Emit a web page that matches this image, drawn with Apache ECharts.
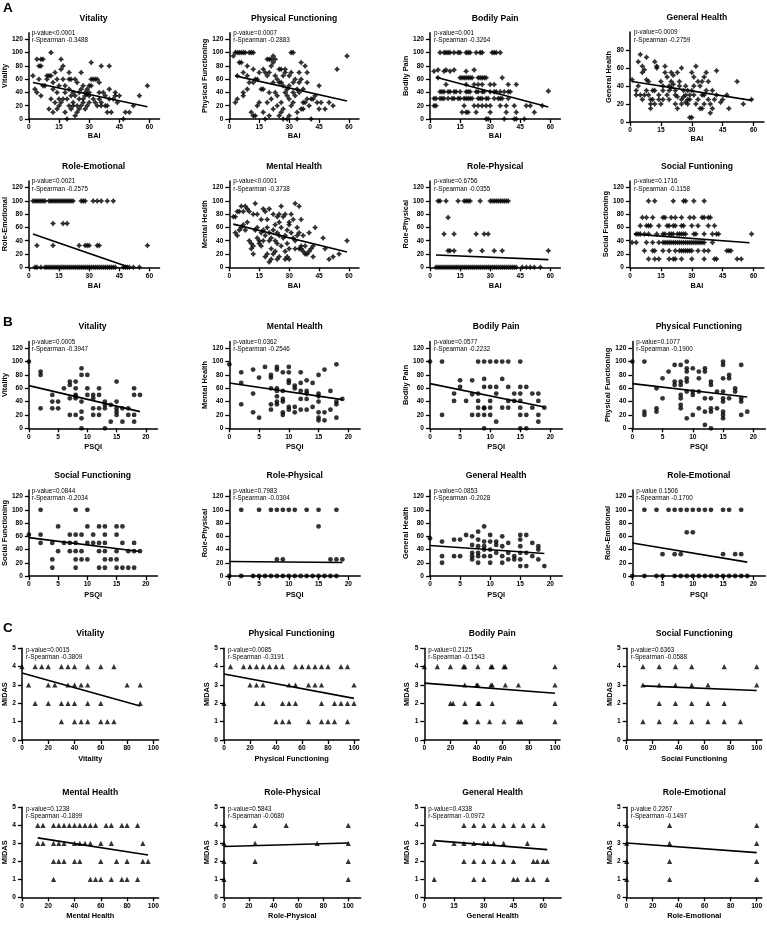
<!DOCTYPE html>
<html><head><meta charset="utf-8">
<script src="https://cdn.jsdelivr.net/npm/echarts@6/dist/echarts.min.js"></script>
<style>html,body{margin:0;padding:0;background:#fff}#c{width:767px;height:925px}</style>
</head><body><div id="c"></div>
<script>
// ===================== DATA =====================
// ---- Section A: BAI (x) vs SF-36 domains (y) ----
const baiVitality = [[2,65],[3,45],[4,40],[4,90],[5,80],[6,80],[6,90],[7,90],[5,60],[6,35],[7,50],[8,50],[9,60],[9,65],[10,65],[11,65],[11,100],[10,15],[11,30],[12,55],[12,45],[12,10],[13,70],[13,25],[14,60],[14,40],[14,15],[15,50],[15,30],[15,20],[16,90],[16,75],[16,25],[17,80],[17,60],[17,30],[18,50],[18,40],[18,10],[19,30],[19,0],[20,60],[20,45],[20,20],[20,70],[21,60],[21,15],[21,35],[22,40],[22,25],[22,20],[23,35],[23,5],[23,60],[24,55],[24,20],[24,10],[25,40],[25,30],[25,15],[26,45],[26,20],[26,70],[27,30],[27,50],[27,25],[28,40],[28,35],[28,15],[29,45],[29,38],[29,20],[30,40],[30,35],[30,25],[30,50],[31,50],[31,60],[31,85],[32,60],[32,30],[33,60],[33,25],[34,60],[34,20],[35,55],[35,40],[35,30],[36,80],[36,25],[36,20],[37,40],[38,35],[38,20],[39,20],[39,10],[40,30],[40,45],[40,80],[41,10],[42,30],[43,35],[43,40],[44,25],[45,35],[47,0],[48,10],[50,10],[52,20],[55,35],[59,50]];
const baiPhysFunc = [[3,100],[4,100],[5,100],[6,100],[7,100],[8,100],[10,100],[11,100],[12,100],[31,100],[32,100],[2,95],[22,95],[59,95],[19,90],[20,90],[21,90],[23,90],[5,85],[6,85],[22,85],[36,85],[9,80],[21,80],[38,80],[12,75],[17,75],[25,75],[26,75],[28,75],[54,75],[7,70],[15,70],[18,70],[20,70],[28,70],[31,70],[35,70],[39,70],[4,65],[9,65],[19,65],[23,65],[27,65],[30,65],[14,60],[24,60],[33,60],[36,60],[12,55],[22,55],[25,55],[32,55],[35,55],[39,55],[27,50],[30,50],[45,50],[9,45],[29,45],[37,45],[7,40],[23,40],[32,40],[35,40],[7,35],[29,35],[43,35],[4,30],[30,30],[39,30],[42,30],[3,25],[15,25],[19,25],[26,25],[32,25],[37,25],[14,20],[24,20],[52,20],[27,15],[45,15],[48,15],[11,10],[17,10],[34,10],[12,5],[13,5],[20,5],[25,5],[18,0],[27,0],[29,0],[34,0],[41,0],[16,45],[21,30],[24,35],[26,55],[28,40],[31,20],[33,35],[36,15],[38,25],[40,20],[44,25],[46,25],[50,25],[10,55],[13,60],[17,45],[20,40],[22,15],[26,10],[30,5],[34,45],[37,15],[41,30]];
const baiBodilyPain = [[5,100],[7,100],[8,100],[9,100],[10,100],[12,100],[14,100],[15,100],[18,100],[19,100],[20,100],[23,100],[25,100],[26,100],[31,100],[32,100],[33,100],[35,100],[2,72],[4,74],[7,72],[8,74],[10,72],[12,74],[18,72],[22,74],[4,62],[15,62],[16,62],[17,62],[18,62],[19,62],[20,62],[21,62],[24,62],[25,62],[26,62],[27,62],[28,62],[36,62],[8,52],[18,52],[22,52],[24,52],[26,52],[30,52],[32,52],[39,52],[43,52],[5,41],[6,41],[7,41],[9,41],[10,41],[12,41],[13,41],[15,41],[18,41],[19,41],[20,41],[23,41],[24,41],[26,41],[27,41],[30,41],[32,41],[33,41],[35,41],[37,41],[39,41],[40,41],[2,31],[3,31],[5,31],[6,31],[7,31],[9,31],[11,31],[12,31],[14,31],[15,31],[17,31],[18,31],[19,31],[20,31],[21,31],[24,31],[25,31],[26,31],[28,31],[29,31],[32,31],[34,31],[35,31],[36,31],[39,31],[2,20],[3,20],[17,20],[22,20],[24,20],[26,20],[28,20],[30,20],[35,20],[38,20],[42,20],[48,20],[50,20],[56,20],[16,10],[18,10],[19,10],[23,10],[30,10],[38,10],[43,10],[52,10],[28,0],[29,0],[37,0],[42,0],[43,0],[47,0],[59,42]];
const baiGenHealth = [[1,47],[3,35],[4,40],[4,67],[5,75],[6,62],[6,55],[7,58],[7,30],[8,72],[8,47],[9,30],[10,20],[10,15],[11,25],[12,35],[12,67],[13,60],[13,62],[14,30],[15,45],[15,20],[16,25],[16,40],[17,55],[17,62],[18,50],[19,35],[19,25],[20,55],[20,45],[21,42],[21,52],[22,35],[22,30],[23,55],[23,15],[24,40],[24,45],[25,60],[25,20],[25,25],[26,35],[27,30],[27,40],[28,25],[28,20],[29,5],[29,30],[29,25],[30,5],[30,55],[30,35],[31,50],[31,30],[32,62],[33,45],[33,25],[34,40],[34,15],[35,45],[35,30],[36,50],[36,20],[37,55],[37,35],[38,25],[39,10],[39,20],[40,15],[40,35],[41,25],[42,57],[42,30],[45,25],[47,30],[48,15],[52,45],[55,20],[59,25],[3,30],[5,30],[6,25],[8,35],[9,45],[10,25],[11,35],[14,25],[18,30],[20,38],[22,20],[26,28],[28,35],[32,20],[35,15],[38,45],[44,22],[12,20],[16,35],[19,40],[23,28],[27,22],[31,40],[36,30]];
const baiRoleEmotional = [[2,100],[3,100],[4,100],[5,100],[6,100],[7,100],[8,100],[10,100],[11,100],[12,100],[13,100],[14,100],[15,100],[16,100],[17,100],[18,100],[19,100],[20,100],[21,100],[22,100],[26,100],[27,100],[28,100],[32,100],[34,100],[36,100],[39,100],[42,100],[12,66],[17,66],[19,66],[4,33],[12,33],[25,33],[28,33],[29,33],[30,33],[34,33],[35,33],[59,33],[3,0],[4,0],[6,0],[8,0],[9,0],[10,0],[11,0],[12,0],[13,0],[14,0],[15,0],[16,0],[17,0],[18,0],[19,0],[20,0],[21,0],[22,0],[23,0],[24,0],[25,0],[26,0],[27,0],[28,0],[29,0],[30,0],[31,0],[32,0],[33,0],[34,0],[35,0],[36,0],[37,0],[38,0],[39,0],[40,0],[41,0],[42,0],[43,0],[47,0],[48,0],[49,0],[50,0],[52,0],[55,0]];
const baiMentalHealth = [[13,96],[8,92],[6,92],[9,88],[10,84],[5,84],[7,84],[4,84],[3,76],[12,80],[14,80],[17,88],[18,84],[19,72],[20,88],[16,72],[22,80],[24,76],[26,92],[25,80],[28,80],[33,96],[30,68],[35,92],[36,72],[31,80],[2,76],[3,52],[4,48],[5,56],[6,60],[7,64],[8,56],[9,68],[10,40],[11,28],[11,36],[12,32],[12,20],[13,56],[14,44],[15,40],[15,36],[16,52],[17,56],[17,40],[18,48],[18,16],[19,20],[19,60],[20,8],[20,52],[21,44],[21,28],[21,12],[22,20],[22,56],[23,40],[23,24],[24,52],[24,36],[25,48],[25,16],[26,60],[26,32],[27,44],[28,24],[28,12],[29,36],[29,56],[29,16],[30,28],[30,64],[30,12],[31,52],[32,44],[33,40],[33,28],[34,60],[34,48],[35,52],[36,32],[36,28],[37,24],[37,48],[38,32],[39,20],[40,24],[40,52],[41,28],[42,16],[42,32],[43,60],[47,44],[48,28],[50,12],[52,16],[55,20],[59,40],[23,64],[27,76],[25,68],[32,72],[14,60],[16,32],[20,40],[24,12],[28,48],[35,28],[38,20]];
const baiRolePhysical = [[4,100],[5,100],[8,100],[14,100],[17,100],[18,100],[19,100],[20,100],[25,100],[30,100],[31,100],[32,100],[33,100],[34,100],[35,100],[36,100],[37,100],[38,100],[39,100],[9,75],[7,50],[12,50],[23,50],[27,50],[29,50],[9,25],[10,25],[12,25],[20,25],[26,25],[32,25],[36,25],[59,25],[3,0],[4,0],[5,0],[6,0],[7,0],[8,0],[9,0],[10,0],[11,0],[12,0],[13,0],[14,0],[15,0],[16,0],[17,0],[18,0],[19,0],[20,0],[21,0],[22,0],[23,0],[24,0],[25,0],[26,0],[27,0],[28,0],[29,0],[30,0],[31,0],[32,0],[33,0],[34,0],[35,0],[36,0],[37,0],[38,0],[39,0],[40,0],[41,0],[42,0],[43,0],[46,0],[48,0],[50,0],[52,0],[55,0]];
const baiSocialFunc = [[9,100],[12,100],[21,100],[26,100],[27,100],[31,100],[36,100],[6,75],[8,75],[11,75],[16,75],[17,75],[20,75],[22,75],[25,75],[29,75],[31,75],[35,75],[36,75],[38,75],[39,75],[5,62.5],[8,62.5],[9,62.5],[10,62.5],[14,62.5],[18,62.5],[19,62.5],[21,62.5],[22,62.5],[25,62.5],[26,62.5],[30,62.5],[33,62.5],[38,62.5],[41,62.5],[3,50],[4,50],[5,50],[7,50],[9,50],[13,50],[16,50],[17,50],[19,50],[20,50],[21,50],[23,50],[24,50],[25,50],[26,50],[27,50],[31,50],[32,50],[36,50],[40,50],[42,50],[43,50],[59,50],[1,37.5],[3,37.5],[8,37.5],[11,37.5],[14,37.5],[16,37.5],[17,37.5],[18,37.5],[19,37.5],[20,37.5],[21,37.5],[22,37.5],[23,37.5],[24,37.5],[25,37.5],[26,37.5],[27,37.5],[28,37.5],[29,37.5],[30,37.5],[31,37.5],[32,37.5],[33,37.5],[34,37.5],[35,37.5],[36,37.5],[40,37.5],[7,25],[11,25],[12,25],[16,25],[19,25],[22,25],[24,25],[25,25],[26,25],[27,25],[28,25],[29,25],[30,25],[33,25],[36,25],[38,25],[47,25],[48,25],[49,25],[9,12.5],[12,12.5],[14,12.5],[19,12.5],[21,12.5],[22,12.5],[25,12.5],[30,12.5],[36,12.5],[41,12.5],[42,12.5],[52,12.5],[54,12.5]];
const baiFits = [[[2,55],[59,18.5]],[[3,65],[59,27]],[[3,63],[59,18]],[[1,45],[59,24]],[[2,50],[50,0]],[[2,65],[59,23]],[[3,18.5],[59,11.5]],[[2,50],[58,37]]];
const titlesA = ['Vitality','Physical Functioning','Bodily Pain','General Health','Role-Emotional','Mental Health','Role-Physical','Social Funtioning'];
const yNamesA = ['Vitality','Physical Functioning','Bodily Pain','General Health','Role-Emotional','Mental Health','Role-Physical','Social Functioning'];
const pA = ['p-value<0.0001','p-value=0.0007','p-value=0.001','p-value=0.0009','p-value=0.0021','p-value<0.0001','p-value=0.6756','p-value=0.1716'];
const rA = ['r-Spearman -0.3488','r-Spearman -0.2883','r-Spearman -0.3264','r-Spearman -0.2759','r-Spearman -0.2575','r-Spearman -0.3738','r-Spearman -0.0355','r-Spearman -0.1158'];

// ---- Section B: PSQI (x) vs SF-36 domains (y) ----
const psqiVitality = [[0,100],[2,85],[2,80],[2,30],[4,50],[4,40],[4,30],[5,40],[5,30],[6,60],[7,70],[7,65],[7,45],[7,20],[8,70],[8,60],[8,50],[8,48],[8,45],[8,20],[9,90],[9,80],[9,40],[9,25],[9,15],[9,0],[10,80],[10,60],[10,50],[11,50],[11,45],[11,30],[11,20],[12,60],[12,50],[12,30],[12,20],[13,40],[13,35],[13,30],[13,0],[14,35],[14,10],[15,70],[15,40],[15,30],[15,25],[15,20],[16,30],[16,10],[17,30],[17,20],[18,60],[18,50],[18,20],[18,10],[19,50]];
const psqiMentalHealth = [[0,96],[2,84],[2,68],[2,36],[4,88],[4,52],[4,24],[5,76],[5,16],[6,92],[7,80],[7,76],[7,60],[7,36],[7,28],[8,92],[8,88],[8,60],[8,56],[8,48],[8,40],[8,36],[9,84],[9,56],[9,44],[9,40],[9,24],[9,20],[10,92],[10,84],[10,72],[10,68],[10,32],[10,28],[11,64],[11,60],[11,32],[11,24],[12,84],[12,68],[12,56],[12,44],[12,28],[13,72],[13,56],[13,52],[13,44],[13,28],[14,68],[14,32],[15,80],[15,52],[15,48],[15,40],[15,24],[15,16],[15,12],[16,88],[16,24],[16,12],[17,56],[17,28],[18,96],[18,40],[18,36],[18,16],[19,44]];
const psqiBodilyPain = [[0,100],[2,100],[2,20],[4,52],[4,41],[5,72],[5,62],[6,41],[7,72],[7,51],[7,20],[8,100],[8,52],[8,41],[8,31],[8,20],[9,100],[9,74],[9,62],[9,31],[9,30],[9,20],[9,0],[10,100],[10,62],[10,41],[10,31],[10,20],[11,100],[11,62],[11,52],[11,10],[12,100],[12,74],[12,31],[13,100],[13,62],[13,41],[13,31],[14,52],[14,41],[15,100],[15,62],[15,52],[15,41],[15,31],[15,20],[15,0],[16,62],[16,20],[16,0],[17,52],[17,31],[18,52],[18,41],[18,20],[18,10],[19,31]];
const psqiPhysFunc = [[0,100],[2,100],[2,25],[2,20],[4,60],[4,30],[4,25],[5,75],[5,45],[6,85],[7,95],[7,70],[7,65],[8,95],[8,70],[8,65],[8,50],[8,45],[8,35],[8,30],[9,100],[9,90],[9,85],[9,75],[9,70],[9,55],[9,15],[10,90],[10,55],[10,50],[10,20],[11,85],[11,75],[11,55],[11,30],[12,90],[12,85],[12,45],[12,25],[12,5],[13,70],[13,65],[13,45],[13,30],[13,25],[13,0],[14,55],[14,30],[15,100],[15,95],[15,75],[15,55],[15,45],[15,40],[15,25],[15,20],[15,15],[16,80],[16,75],[16,45],[17,60],[17,55],[18,95],[18,45],[18,40],[18,20],[19,25]];
const psqiSocialFunc = [[0,62.5],[2,100],[2,62.5],[2,50],[4,50],[4,25],[4,12.5],[5,75],[5,37.5],[6,50],[7,62.5],[7,50],[7,37.5],[8,100],[8,62.5],[8,50],[8,37.5],[8,25],[8,12.5],[9,62.5],[9,37.5],[9,25],[10,100],[10,75],[10,50],[10,25],[11,62.5],[11,50],[12,75],[12,50],[12,37.5],[12,12.5],[13,75],[13,62.5],[13,50],[13,37.5],[13,25],[13,12.5],[14,25],[15,75],[15,62.5],[15,37.5],[15,25],[15,12.5],[16,75],[16,50],[16,12.5],[17,37.5],[17,12.5],[18,50],[18,37.5],[18,12.5],[19,37.5]];
const psqiRolePhysical = [[2,100],[5,100],[7,100],[8,100],[9,100],[10,100],[11,100],[13,100],[15,100],[18,100],[15,75],[8,25],[9,25],[17,25],[18,25],[19,25],[0,0],[2,0],[4,0],[5,0],[6,0],[7,0],[8,0],[9,0],[10,0],[11,0],[12,0],[13,0],[14,0],[15,0],[16,0],[17,0],[18,0]];
const psqiGenHealth = [[0,57],[2,52],[2,30],[2,20],[4,55],[4,30],[5,55],[5,30],[6,62],[7,60],[7,47],[7,35],[7,30],[7,25],[8,67],[8,55],[8,45],[8,35],[8,30],[8,20],[9,75],[9,52],[9,45],[9,40],[9,30],[10,62],[10,52],[10,40],[10,30],[10,20],[11,52],[11,47],[11,35],[12,60],[12,45],[12,30],[12,20],[13,50],[13,35],[13,25],[14,30],[14,25],[15,62],[15,55],[15,45],[15,35],[15,25],[15,15],[16,62],[16,35],[16,15],[17,50],[17,30],[18,45],[18,40],[18,25],[19,15]];
const psqiRoleEmotional = [[2,100],[4,100],[6,100],[7,100],[8,100],[9,100],[10,100],[11,100],[12,100],[13,100],[15,100],[16,100],[18,100],[9,66],[10,66],[5,33],[7,33],[8,33],[15,33],[17,33],[18,33],[0,0],[2,0],[4,0],[5,0],[7,0],[8,0],[9,0],[10,0],[11,0],[12,0],[13,0],[14,0],[15,0],[16,0],[17,0],[18,0],[19,0]];
const psqiFits = [[[0,64],[19,25]],[[0,68],[19,43]],[[0,67],[19,32]],[[0,67],[19,47]],[[0,58],[19,37]],[[0,22],[19,20.5]],[[0,46],[19,34]],[[0,50],[19,21]]];
const titlesB = ['Vitality','Mental Health','Bodily Pain','Physical Functioning','Social Functioning','Role-Physical','General Health','Role-Emotional'];
const pB = ['p-value=0.0005','p-value=0.0362','p-value=0.0577','p-value=0.1077','p-value=0.0844','p-value=0.7983','p-value=0.0853','p-value 0.1506'];
const rB = ['r-Spearman -0.3947','r-Spearman -0.2546','r-Spearman -0.2232','r-Spearman -0.1900','r-Spearman -0.2034','r-Spearman -0.0304','r-Spearman -0.2028','r-Spearman -0.1700'];

// ---- Section C: SF-36 domains (x) vs MIDAS (y) ----
const midasVitality = [[0,4],[10,4],[15,4],[20,4],[30,4],[35,4],[40,4],[50,4],[60,4],[70,4],[5,3],[20,3],[25,3],[35,3],[40,3],[45,3],[50,3],[80,3],[90,3],[10,2],[20,2],[30,2],[35,2],[40,2],[50,2],[60,2],[90,2],[30,1],[40,1],[45,1],[50,1],[60,1],[65,1],[70,1]];
const midasPhysFunc = [[5,4],[15,4],[20,4],[25,4],[30,4],[35,4],[40,4],[45,4],[55,4],[60,4],[65,4],[70,4],[75,4],[80,4],[90,4],[95,4],[20,3],[25,3],[30,3],[50,3],[55,3],[65,3],[70,3],[75,3],[100,3],[0,2],[25,2],[30,2],[45,2],[50,2],[55,2],[75,2],[85,2],[90,2],[95,2],[100,2],[40,1],[45,1],[50,1],[65,1],[75,1],[80,1],[85,1],[95,1]];
const midasBodilyPain = [[0,4],[10,4],[20,4],[30,4],[31,4],[41,4],[51,4],[52,4],[61,4],[62,4],[100,4],[31,3],[40,3],[41,3],[51,3],[52,3],[62,3],[72,3],[100,3],[20,2],[22,2],[31,2],[41,2],[42,2],[52,2],[100,2],[31,1],[32,1],[41,1],[50,1],[61,1],[72,1],[74,1],[100,1]];
const midasSocialFunc = [[12.5,4],[25,4],[37.5,4],[50,4],[75,4],[100,4],[12.5,3],[25,3],[37.5,3],[50,3],[62.5,3],[100,3],[25,2],[37.5,2],[50,2],[62.5,2],[75,2],[12.5,1],[25,1],[37.5,1],[50,1],[62.5,1],[75,1],[87.5,1]];
const midasMentalHealth = [[12,4],[16,4],[24,4],[28,4],[32,4],[36,4],[40,4],[44,4],[48,4],[52,4],[56,4],[64,4],[68,4],[76,4],[80,4],[88,4],[12,3],[16,3],[24,3],[28,3],[32,3],[40,3],[44,3],[48,3],[52,3],[60,3],[68,3],[92,3],[24,2],[28,2],[32,2],[40,2],[44,2],[60,2],[72,2],[80,2],[92,2],[96,2],[24,1],[52,1],[56,1],[60,1],[68,1],[76,1],[80,1],[88,1]];
const midasRolePhysical = [[0,4],[25,4],[50,4],[100,4],[0,3],[25,3],[75,3],[100,3],[0,2],[25,2],[100,2],[0,1],[100,1]];
const midasGenHealth = [[20,4],[25,4],[30,4],[35,4],[40,4],[45,4],[50,4],[55,4],[60,4],[5,3],[15,3],[20,3],[25,3],[30,3],[32,3],[35,3],[40,3],[52,3],[20,2],[25,2],[30,2],[35,2],[40,2],[45,2],[55,2],[57,2],[60,2],[62,2],[5,1],[25,1],[30,1],[45,1],[47,1],[52,1],[55,1],[62,1]];
const midasRoleEmotional = [[0,4],[33,4],[100,4],[0,3],[33,3],[100,3],[0,2],[33,2],[100,2],[0,1],[33,1],[100,1]];
const midasFits = [[[0,3.65],[90,1.85]],[[0,3.6],[100,2.27]],[[0,3.1],[100,2.55]],[[12.5,2.95],[100,2.7]],[[12,3.3],[96,2.35]],[[0,2.82],[100,3.02]],[[5,3.15],[62,2.65]],[[0,3.02],[100,2.48]]];
const titlesC = ['Vitality','Physical Functioning','Bodily Pain','Social Functioning','Mental Health','Role-Physical','General Health','Role-Emotional'];
const pC = ['p-value=0.0015','p-value=0.0085','p-value=0.2125','p-value=0.6363','p-value=0.1238','p-value=0.5843','p-value=0.4338','p-value 0.2267'];
const rC = ['r-Spearman -0.3809','r-Spearman -0.3191','r-Spearman -0.1543','r-Spearman -0.0588','r-Spearman -0.1899','r-Spearman -0.0680','r-Spearman -0.0972','r-Spearman -0.1497'];

// tick labels
const ticksBAI = [0,15,30,45,60];
const ticksPSQI = [0,5,10,15,20];
const ticksSF = [0,20,40,60,80,100];
const ticksGH = [0,15,30,45,60];
const ticksScore = [0,20,40,60,80,100,120];
const ticksGHScore = [0,20,40,60,80];
const ticksMIDAS = [0,1,2,3,4,5];

// ===================== LAYOUT =====================
const FONT = '"Liberation Sans", Arial, Helvetica, sans-serif';
const layoutA = {left:[27.7,229.3,430,630], width:[131.8,129.7,130.4,133.9], top:[32.7,181], height:[86.3,86.3]};
const layoutB = {left:[27.7,229.3,430,632.3], width:[129.8,130.9,132.4,133.1], top:[341.6,490], height:[86.7,86]};
const layoutC = {left:[22,224,424.3,626.7], width:[136.6,135.2,135.9,135.2], top:[648.3,807.3], height:[91.7,90]};

const sections = [
  {letter:'A', letterY:8, layout:layoutA, pts:[baiVitality,baiPhysFunc,baiBodilyPain,baiGenHealth,baiRoleEmotional,baiMentalHealth,baiRolePhysical,baiSocialFunc], fits:baiFits,
   titles:titlesA, xNames:titlesA.map(()=> 'BAI'), yNames:yNamesA, p:pA, r:rA, symbol:'path://M0,-10L4.2,-4.2L10,0L4.2,4.2L0,10L-4.2,4.2L-10,0L-4.2,-4.2Z', symbolSize:6,
   xmax:()=>65, xticks:()=>ticksBAI, xint:()=>15, ymax:(i)=> i===3?100:130, yticks:(i)=> i===3?ticksGHScore:ticksScore, yint:()=>20, yGap:(i)=> i===3?15:19, annot:[0.3,7.8]},
  {letter:'B', letterY:322, layout:layoutB, pts:[psqiVitality,psqiMentalHealth,psqiBodilyPain,psqiPhysFunc,psqiSocialFunc,psqiRolePhysical,psqiGenHealth,psqiRoleEmotional], fits:psqiFits,
   titles:titlesB, xNames:titlesB.map(()=> 'PSQI'), yNames:titlesB, p:pB, r:rB, symbol:'circle', symbolSize:4.8,
   xmax:()=>22, xticks:()=>ticksPSQI, xint:()=>5, ymax:()=>130, yticks:()=>ticksScore, yint:()=>20, yGap:()=>19, annot:[0.8,7.8]},
  {letter:'C', letterY:628, layout:layoutC, pts:[midasVitality,midasPhysFunc,midasBodilyPain,midasSocialFunc,midasMentalHealth,midasRolePhysical,midasGenHealth,midasRoleEmotional], fits:midasFits,
   titles:titlesC, xNames:titlesC, yNames:titlesC.map(()=> 'MIDAS'), p:pC, r:rC, symbol:'triangle', symbolSize:5.2,
   xmax:(i)=> i===6?69:(i===5?110:104), xticks:(i)=> i===6?ticksGH:ticksSF, xint:(i)=> i===6?15:20, ymax:()=>5, yticks:()=>ticksMIDAS, yint:()=>1, yGap:()=>12, annot:[2.4,8.6]}
];

// ===================== BUILD =====================
const option = {animation:false, backgroundColor:'#fff', grid:[], xAxis:[], yAxis:[], series:[], graphic:[]};
const black = '#000';
const labelStyle = {color:black, fontSize:6.6, fontWeight:'bold', fontFamily:FONT};
const nameStyle = {color:black, fontSize:7.4, fontWeight:'bold', fontFamily:FONT};

sections.forEach(sec => {
  option.graphic.push({type:'text', x:3, y:sec.letterY, style:{text:sec.letter, fontSize:13.5, fontWeight:'bold', fontFamily:FONT, fill:black, verticalAlign:'middle'}});
  for (let i = 0; i < 8; i++) {
    const row = Math.floor(i/4), col = i%4;
    const L = sec.layout;
    let left = L.left[col], width = L.width[col], top = L.top[row], height = L.height[row];
    if (sec.letter==='A' && i===3) { top = 32; height = 90; }
    if (sec.letter==='C' && i===6) { width = 136.8; }
    if (sec.letter==='C' && i===5) { width = 136.7; }
    const gi = option.grid.length;
    option.grid.push({left:left, top:top, width:width, height:height, containLabel:false});
    const xt = sec.xticks(i), yt = sec.yticks(i);
    option.xAxis.push({gridIndex:gi, type:'value', min:0, max:sec.xmax(i), interval:sec.xint(i),
      axisLine:{show:true, onZero:false, lineStyle:{color:black, width:1.5}},
      axisTick:{show:true, length:4, customValues:xt, lineStyle:{color:black, width:1.3}},
      axisLabel:{customValues:xt, margin:5, ...labelStyle},
      splitLine:{show:false},
      name:sec.xNames[i], nameLocation:'middle', nameGap:(sec.letter==='A'&&row===0)?13.5:15.5, nameTextStyle:nameStyle});
    option.yAxis.push({gridIndex:gi, type:'value', min:0, max:sec.ymax(i), interval:sec.yint(i),
      axisLine:{show:true, onZero:false, lineStyle:{color:black, width:1.5}},
      axisTick:{show:true, length:4, customValues:yt, lineStyle:{color:black, width:1.3}},
      axisLabel:{customValues:yt, margin:6, ...labelStyle},
      splitLine:{show:false},
      name:sec.yNames[i], nameLocation:'middle', nameGap:sec.yGap(i), nameTextStyle:nameStyle});
    option.series.push({type:'scatter', xAxisIndex:gi, yAxisIndex:gi, data:sec.pts[i], symbol:sec.symbol, symbolSize:sec.symbolSize,
      itemStyle:{color:black}, silent:true, clip:false});
    option.series.push({type:'line', xAxisIndex:gi, yAxisIndex:gi, data:sec.fits[i], symbol:'none', silent:true,
      lineStyle:{color:black, width:1.6}});
    option.graphic.push({type:'text', x:left + width/2, y:top - 14.5, style:{text:sec.titles[i], fontSize:8.6, fontWeight:'bold', fontFamily:FONT, fill:black, align:'center', verticalAlign:'middle'}});
    option.graphic.push({type:'text', x:left + 4, y:top + sec.annot[0], style:{text:sec.p[i], fontSize:6.3, fontFamily:FONT, fill:black, verticalAlign:'middle'}});
    option.graphic.push({type:'text', x:left + 4, y:top + sec.annot[1], style:{text:sec.r[i], fontSize:6.3, fontFamily:FONT, fill:black, verticalAlign:'middle'}});
  }
});

const chart = echarts.init(document.getElementById('c'), null, {renderer:'canvas'});
chart.setOption(option);
</script></body></html>
